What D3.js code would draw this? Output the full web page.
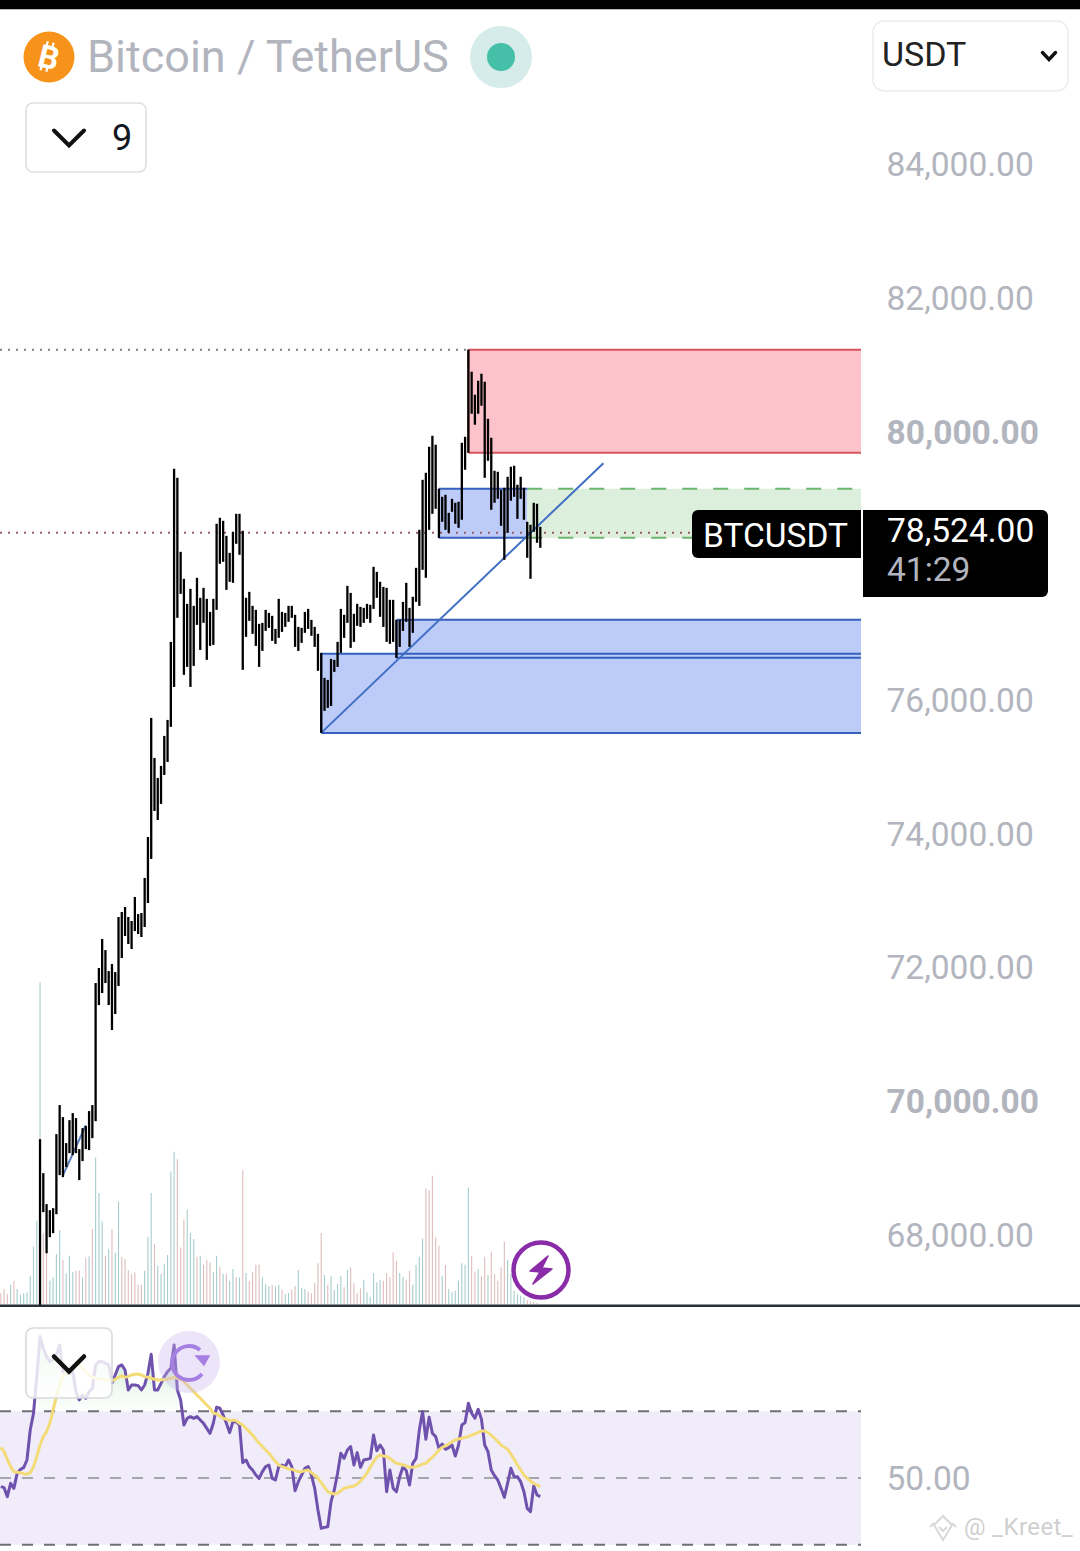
<!DOCTYPE html>
<html>
<head>
<meta charset="utf-8">
<script src="https://cdnjs.cloudflare.com/ajax/libs/d3/7.8.5/d3.min.js"></script>
<style>
  html, body { margin: 0; padding: 0; background: #fff; }
  svg { display: block; font-family: Roboto, sans-serif; }
</style>
</head>
<body>
<div id="chart"></div>
<script>
// bar highs and lows, first entry is the bar at index 0
const highs = [69432,68924,68461,68371,68401,69507,69941,69761,69373,69716,69821,69746,69283,69597,69627,69851,69941,71764,71988,72422,
  72257,71943,72048,71928,72751,72825,72900,72751,72691,73050,72795,72810,73334,73946,75725,75127,74828,75008,75456,75695,
  76861,79447,79312,78206,77803,77429,77653,77399,77818,77519,77668,77504,77309,77504,78625,78714,78670,78445,78191,78505,
  78774,78774,78520,77519,77608,77399,77339,77130,77145,77339,77294,77250,77055,77504,77309,77294,77399,77399,77265,77085,
  77070,77309,77354,77190,77085,76981,76697,76323,76293,76607,76592,76861,77354,77265,77698,77593,77280,77429,77384,77369,
  77429,77414,77982,77907,77758,77683,77668,77489,77489,77190,77190,77459,77743,77369,77534,77967,78535,79282,79387,79776,
  79940,79806,79148,79028,79058,78789,78998,78939,78954,79835,79925,81226,80897,80553,80762,80867,80747,80194,79910,79417,
  79402,79133,79163,79327,79477,79492,79208,79327,79163,78655,78610,78939,78924,78580];
const lows = [66951,68341,67728,67968,68027,68311,68894,68864,69014,69223,69193,69223,68820,69104,69283,69268,69447,69701,71435,71615,
  71764,71435,71062,71301,71719,72138,72467,72347,72272,72541,72497,72452,72601,72960,73618,74335,74200,74440,74873,75067,
  75591,76188,77220,77578,76368,76487,76188,76502,77115,76741,77145,76592,76801,76816,77339,78027,78057,77638,77758,77743,
  78326,78161,76443,76936,77175,76981,76801,76487,76726,77025,77070,76876,76831,76921,77010,77085,77160,77220,76786,76726,
  76846,76996,77055,76951,76786,76428,75501,75830,75875,75904,76413,76487,76697,76921,77145,76771,76861,77100,77085,77145,
  77205,77145,77354,77519,77235,77085,76861,76831,76861,76622,76786,77025,77160,76786,76996,77459,77399,77937,77818,78535,
  78774,78849,78415,78655,78535,78490,78804,78625,78565,78685,79432,79686,80269,80105,80269,80389,79312,79566,78834,78939,
  78998,78595,78087,78490,78969,79028,78699,78998,78685,78117,77803,78505,78341,78266];

// volume and rsi start 12 bars before the first price bar
const preBars = 12;
const volumes = [32,45,30,58,70,45,28,32,35,85,172,250,
  966,212,160,70,80,150,222,132,92,145,95,100,100,80,138,143,225,440,333,248,145,165,225,155,307,142,135,102,90,95,58,58,100,202,333,180,115,90,120,147,
  398,457,435,170,253,283,213,195,142,145,118,133,125,95,145,110,90,90,70,105,80,80,402,93,70,95,118,118,80,60,53,58,53,58,43,30,33,43,53,102,
  48,45,37,32,62,122,213,87,57,85,42,60,85,50,103,110,62,34,47,73,35,22,93,65,73,70,92,80,155,130,93,82,73,100,58,118,142,197,347,342,385,200,175,85,117,45,35,40,70,122,118,
  350,145,97,105,83,142,87,158,90,70,110,187,132,90,40,30,25,20,12,8,6,4];
// bar indexes whose volume is drawn red
const volumeDown = [-12,-11,-10,-8,1,2,7,11,12,14,16,20,22,25,26,27,28,29,30,31,35,42,43,44,48,50,51,52,55,57,60,62,64,65,66,67,71,74,77,78,
  82,83,84,85,86,88,93,95,96,97,98,105,106,107,108,109,112,113,118,119,120,121,122,124,132,133,135,136,138,139,140,141,142,149,150,151,152];

const rsi = [47.4,47.1,44.4,48.4,46.9,51.4,52.6,53.1,55.4,64.4,69.4,80.4,
  92.4,88.9,86.4,84.9,85.6,86.9,89.9,81.9,81.4,81.9,81.9,75.9,73.4,74.9,73.9,75.9,76.9,83.9,84.9,84.9,84.4,83.9,78.4,80.9,83.4,83.9,82.4,76.4,
  77.9,77.9,77.7,76.4,77.9,81.4,87.1,76.4,76.4,78.4,80.4,81.9,82.9,89.9,76.4,73.4,65.9,67.9,68.4,67.9,68.4,67.4,66.4,64.9,63.4,66.4,71.2,70.9,68.9,66.4,
  63.6,66.9,66.9,65.9,54.6,55.4,53.4,52.4,50.9,49.9,51.9,53.4,53.9,49.9,49.4,53.4,53.9,53.4,55.4,53.4,46.2,48.9,
  50.9,52.9,53.4,50.9,46.9,40.4,34.9,35.2,35.4,42.9,46.4,51.4,57.4,55.9,58.4,59.4,53.9,57.6,53.2,55.4,55.6,55.9,62.9,58.2,59.9,58.4,45.9,52.4,46.9,45.9,
  50.4,53.4,52.2,47.9,54.4,55.9,64.4,69.9,61.6,68.2,63.4,62.4,58.9,60.2,58.6,59.1,59.9,56.6,59.9,65.9,66.6,72.4,69.4,67.9,70.6,67.6,59.9,57.9,52.4,50.7,
  49.4,46.9,44.2,48.4,52.9,50.4,50.4,48.9,45.9,40.9,39.9,47.6,44.9,44.4];
const rsiMa = [59.2,57.9,55.6,53.4,51.9,51.7,51.6,51.3,51.1,51.6,53.4,56.4,
  59.9,62.4,63.9,66.4,70.4,74.4,77.9,80.4,81.9,82.9,83.4,83.9,83.9,82.9,81.9,80.9,80.2,79.9,79.7,79.6,79.4,79.4,79.2,79.6,80.2,80.6,80.2,80.4,
  80.9,81.1,81.2,80.9,80.4,80.2,79.9,79.6,79.4,79.4,79.6,79.7,79.9,80.2,79.9,79.6,78.9,77.9,76.9,75.9,74.9,73.9,72.9,71.9,70.9,69.4,69.2,68.6,67.9,67.6,
  67.2,67.4,67.2,66.4,65.9,64.9,63.9,62.9,61.6,60.4,59.4,58.4,57.4,56.2,54.9,53.9,53.4,53.1,52.7,52.6,52.2,51.9,
  51.9,52.2,52.4,51.6,50.9,49.9,48.6,47.2,45.9,45.4,45.2,45.4,46.2,46.9,47.2,47.4,47.6,48.2,49.1,50.2,51.4,53.2,54.9,56.2,56.9,56.6,56.4,55.9,55.1,54.4,
  54.2,53.9,53.6,53.2,53.2,53.4,53.7,54.2,54.4,55.4,56.2,57.2,58.4,59.2,59.6,60.2,60.9,61.4,61.7,61.9,62.2,62.4,62.9,63.2,63.7,64.1,64.1,63.6,62.9,61.9,
  60.9,59.9,59.2,58.6,57.2,55.6,53.9,52.4,50.9,49.9,49.1,48.4,47.9,47.4];

const priceTicks = [84000, 82000, 80000, 76000, 74000, 72000, 70000, 68000];
const boldTicks = [80000, 70000];
const rsiTicks = [50];
const highPrice = 81226;
const lastPrice = 78490;

const width = 1080, height = 1551;
const plotRight = 861;

const svg = d3.select('#chart').append('svg')
  .attr('width', width).attr('height', height);

const x = d3.scaleLinear().domain([-preBars, 153]).range([0.8, 540.3]);
const y = d3.scaleLinear().domain([68000, 84000]).range([1235, 164]);
const yVol = d3.scaleLinear().domain([0, 1000]).range([1304, 971]);
const yRsi = d3.scaleLinear().domain([30, 70]).range([1544.7, 1411.3]);

// ---- rsi pane
const defs = svg.append('defs');
const grad = defs.append('linearGradient').attr('id', 'obFill')
  .attr('gradientUnits', 'userSpaceOnUse')
  .attr('x1', 0).attr('x2', 0)
  .attr('y1', yRsi(90)).attr('y2', yRsi(70));
grad.append('stop').attr('offset', 0).attr('stop-color', '#b5e2bd').attr('stop-opacity', 0.9);
grad.append('stop').attr('offset', 1).attr('stop-color', '#e2f4e4').attr('stop-opacity', 0.1);

svg.append('rect').attr('x', 0).attr('width', plotRight)
  .attr('y', yRsi(70)).attr('height', yRsi(30) - yRsi(70))
  .attr('fill', '#f0ecfa');

const rsiIdx = (d, i) => x(i - preBars);
svg.append('path').datum(rsi)
  .attr('fill', 'url(#obFill)')
  .attr('d', d3.area().x(rsiIdx).y0(yRsi(70)).y1(d => yRsi(Math.max(d, 70))));

[[70, '#6f7077'], [50, '#a6a6ae'], [30, '#6f7077']].forEach(([lvl, col]) => {
  svg.append('line').attr('x1', 0).attr('x2', plotRight)
    .attr('y1', yRsi(lvl)).attr('y2', yRsi(lvl))
    .attr('stroke', col).attr('stroke-width', 2)
    .attr('stroke-dasharray', '11 11');
});

svg.append('path').datum(rsi)
  .attr('fill', 'none').attr('stroke', '#6f52ad').attr('stroke-width', 3)
  .attr('stroke-linejoin', 'round')
  .attr('d', d3.line().x(rsiIdx).y(d => yRsi(d)));
svg.append('path').datum(rsiMa)
  .attr('fill', 'none').attr('stroke', '#f3dc78').attr('stroke-width', 3)
  .attr('stroke-linejoin', 'round')
  .attr('d', d3.line().x(rsiIdx).y(d => yRsi(d)));

// ---- volume
svg.append('g').selectAll('line').data(volumes).join('line')
  .attr('x1', (d, i) => x(i - preBars)).attr('x2', (d, i) => x(i - preBars))
  .attr('y1', yVol(0)).attr('y2', d => yVol(d))
  .attr('stroke', (d, i) => volumeDown.includes(i - preBars) ? '#dfbcbc' : '#a6cccd')
  .attr('stroke-width', 1.1);

// ---- drawings
function zoneFill(i0, i1, top, bottom, fill) {
  const right = i1 === null ? plotRight : x(i1);
  svg.append('rect')
    .attr('x', x(i0)).attr('width', right - x(i0))
    .attr('y', y(top)).attr('height', y(bottom) - y(top))
    .attr('fill', fill);
}
function zoneEdges(i0, i1, top, bottom, stroke) {
  const right = i1 === null ? plotRight : x(i1);
  [top, bottom].forEach(p => {
    svg.append('line').attr('x1', x(i0)).attr('x2', right)
      .attr('y1', y(p)).attr('y2', y(p))
      .attr('stroke', stroke).attr('stroke-width', 2);
  });
  svg.append('line').attr('x1', x(i0)).attr('x2', x(i0))
    .attr('y1', y(top)).attr('y2', y(bottom))
    .attr('stroke', stroke).attr('stroke-width', 2);
}

// dotted price lines
svg.append('line').attr('x1', 0).attr('x2', x(131))
  .attr('y1', y(highPrice)).attr('y2', y(highPrice))
  .attr('stroke', '#808080').attr('stroke-width', 2).attr('stroke-dasharray', '2 6');

// green zone with dashed edges
svg.append('rect').attr('x', x(149)).attr('width', plotRight - x(149))
  .attr('y', y(79148)).attr('height', y(78415) - y(79148)).attr('fill', '#dcefdc');
[79148, 78415].forEach(p => {
  svg.append('line').attr('x1', x(149)).attr('x2', plotRight)
    .attr('y1', y(p)).attr('y2', y(p))
    .attr('stroke', '#6cb56f').attr('stroke-width', 2).attr('stroke-dasharray', '15 16');
});

zoneFill(131, null, 81226, 79686, '#fcc4ca');
zoneEdges(131, null, 81226, 79686, '#d8515c');

// the two lower zones overlap, so both fills go down before any edge
const blueZones = [[86, null, 76682, 75501], [109, null, 77190, 76622], [122, 149, 79148, 78415]];
blueZones.forEach(z => zoneFill(z[0], z[1], z[2], z[3], '#bccbf8'));
blueZones.forEach(z => zoneEdges(z[0], z[1], z[2], z[3], '#3560bd'));

svg.append('line').attr('x1', 0).attr('x2', 692)
  .attr('y1', y(lastPrice)).attr('y2', y(lastPrice))
  .attr('stroke', '#9c5c64').attr('stroke-width', 2).attr('stroke-dasharray', '2 6');

const trend = d3.line().x(d => x(d[0])).y(d => y(d[1]));
svg.append('path').datum([[86, 75501], [172.3, 79530]])
  .attr('fill', 'none').attr('stroke', '#3f6fc4').attr('stroke-width', 2).attr('d', trend);
svg.append('path').datum([[7, 68890], [14, 69640]])
  .attr('fill', 'none').attr('stroke', '#5a7fc0').attr('stroke-width', 2).attr('d', trend);

// ---- price bars
svg.append('g').selectAll('line').data(highs).join('line')
  .attr('x1', (d, i) => x(i)).attr('x2', (d, i) => x(i))
  .attr('y1', d => y(d)).attr('y2', (d, i) => y(lows[i]))
  .attr('stroke', '#000').attr('stroke-width', 2.3);

// ---- axes
const fmt = d3.format(',.2f');
const yAxis = svg.append('g').attr('transform', 'translate(877,1)')
  .call(d3.axisRight(y).tickValues(priceTicks).tickSize(0).tickPadding(9.5).tickFormat(fmt));
yAxis.select('.domain').remove();
yAxis.selectAll('text')
  .attr('fill', '#b2b5be').style('font-size', '33.5px').style('font-family', 'Roboto')
  .style('font-weight', d => boldTicks.includes(d) ? 700 : 400);

const rsiAxis = svg.append('g').attr('transform', 'translate(877,1)')
  .call(d3.axisRight(yRsi).tickValues(rsiTicks).tickSize(0).tickPadding(9.5).tickFormat(fmt));
rsiAxis.select('.domain').remove();
rsiAxis.selectAll('text')
  .attr('fill', '#b2b5be').style('font-size', '33.5px').style('font-family', 'Roboto');

// pane divider
svg.append('rect').attr('x', 0).attr('y', 1304.5).attr('width', width).attr('height', 2.5).attr('fill', '#2a2e39');

// ---- header
svg.append('rect').attr('width', width).attr('height', 9).attr('fill', '#000');
svg.append('rect').attr('y', 9).attr('width', width).attr('height', 1).attr('fill', '#bbb');

svg.append('circle').attr('cx', 49).attr('cy', 57).attr('r', 25.5).attr('fill', '#f7931a');
const coin = svg.append('g').attr('transform', 'translate(49,57) rotate(14)');
coin.append('text').attr('text-anchor', 'middle').attr('y', 11.5)
  .attr('fill', '#fff').style('font-size', '32px').style('font-weight', 700).text('B');
[-5, 1].forEach(dx => {
  coin.append('line').attr('x1', dx).attr('x2', dx).attr('y1', -15).attr('y2', -10)
    .attr('stroke', '#fff').attr('stroke-width', 2.2);
  coin.append('line').attr('x1', dx).attr('x2', dx).attr('y1', 10).attr('y2', 15)
    .attr('stroke', '#fff').attr('stroke-width', 2.2);
});

svg.append('text').attr('x', 87).attr('y', 71.5)
  .attr('fill', '#b2b5be').style('font-size', '45px').text('Bitcoin / TetherUS');

svg.append('circle').attr('cx', 501).attr('cy', 57).attr('r', 31).attr('fill', '#d5ecea');
svg.append('circle').attr('cx', 501).attr('cy', 57).attr('r', 14).attr('fill', '#45bfa8');

function chevron(cx, cy, w, h, sw) {
  svg.append('path')
    .attr('d', `M${cx - w},${cy - h}L${cx},${cy + h}L${cx + w},${cy - h}`)
    .attr('fill', 'none').attr('stroke', '#111').attr('stroke-width', sw)
    .attr('stroke-linecap', 'round').attr('stroke-linejoin', 'miter');
}

svg.append('rect').attr('x', 26).attr('y', 103).attr('width', 120).attr('height', 69).attr('rx', 7)
  .attr('fill', '#fff').attr('stroke', '#dfdfe2').attr('stroke-width', 1.6);
chevron(69, 138, 15, 7.5, 4);
svg.append('text').attr('x', 122).attr('y', 150).attr('text-anchor', 'middle')
  .attr('fill', '#131722').style('font-size', '36px').text('9');

svg.append('rect').attr('x', 873).attr('y', 21).attr('width', 195).attr('height', 70).attr('rx', 11)
  .attr('fill', '#fff').attr('stroke', '#eceded').attr('stroke-width', 1.6);
svg.append('text').attr('x', 882).attr('y', 66).attr('fill', '#222').style('font-size', '34px').text('USDT');
chevron(1049, 56, 6.5, 3.5, 3.4);

// ---- price labels
svg.append('path').attr('d', 'M861,510H698a6,6 0 0 0 -6,6V552a6,6 0 0 0 6,6H861Z').attr('fill', '#000');
svg.append('text').attr('x', 703).attr('y', 547).attr('fill', '#fff').style('font-size', '33.5px').text('BTCUSDT');
svg.append('path').attr('d', 'M863,510H1042a6,6 0 0 1 6,6V591a6,6 0 0 1 -6,6H863Z').attr('fill', '#000');
svg.append('text').attr('x', 887).attr('y', 542).attr('fill', '#fff').style('font-size', '33.5px').text('78,524.00');
svg.append('text').attr('x', 887).attr('y', 581).attr('fill', '#b2b5be').style('font-size', '33.5px').text('41:29');

// ---- lightning badge
svg.append('circle').attr('cx', 541).attr('cy', 1270).attr('r', 27.5)
  .attr('fill', '#fff').attr('fill-opacity', 0.9).attr('stroke', '#8a2ca8').attr('stroke-width', 4.5);
svg.append('path').attr('d', 'M548,1256L530,1271L540,1272L533,1284L552,1269L542,1268Z')
  .attr('fill', '#8a2ca8').attr('stroke', '#8a2ca8').attr('stroke-width', 1.5).attr('stroke-linejoin', 'round');

// ---- rsi pane controls
svg.append('rect').attr('x', 26).attr('y', 1328).attr('width', 86).attr('height', 70).attr('rx', 7)
  .attr('fill', '#fff').attr('fill-opacity', 0.82).attr('stroke', '#d9d9dc').attr('stroke-width', 1.6);
chevron(69, 1364, 15, 7.5, 4.5);

svg.append('circle').attr('cx', 189).attr('cy', 1362).attr('r', 31).attr('fill', '#c9b4ee').attr('fill-opacity', 0.35);
const refresh = svg.append('g').attr('transform', 'translate(189,1363)')
  .attr('fill', 'none').attr('stroke', '#a67fe2').attr('stroke-width', 3.8);
refresh.append('path').attr('d', 'M11,-13A17,17 0 1 0 13,11');
refresh.append('path').attr('d', 'M7,-7L20,-7L15,2Z').attr('fill', '#a67fe2').attr('stroke-width', 1.5);

// ---- watermark
const wm = svg.append('g').attr('transform', 'translate(943,1527)')
  .attr('fill', 'none').attr('stroke', '#d8d8d8').attr('stroke-width', 2);
wm.append('path').attr('d', 'M0,-11L9,-2L0,13L-9,-2Z');
wm.append('path').attr('d', 'M-13,0L-9,-4M13,0L9,-4M-4,0L0,4L4,0');
svg.append('text').attr('x', 964).attr('y', 1535).attr('fill', '#cfcfcf')
  .style('font-size', '24px').style('letter-spacing', '0.4px').text('@ _Kreet_');
</script>
</body>
</html>
